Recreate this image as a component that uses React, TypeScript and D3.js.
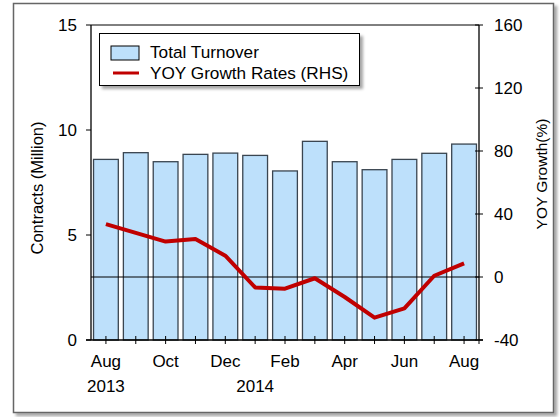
import React from "react";
import * as d3 from "d3";

const months = ["Aug", "Sep", "Oct", "Nov", "Dec", "Jan", "Feb", "Mar", "Apr", "May", "Jun", "Jul", "Aug2"];
const monthLabels = ["Aug", "", "Oct", "", "Dec", "", "Feb", "", "Apr", "", "Jun", "", "Aug"];
const turnover = [8.6, 8.92, 8.49, 8.84, 8.9, 8.79, 8.05, 9.46, 8.49, 8.11, 8.6, 8.89, 9.33];
const yoyGrowth = [33.6, 28, 22.5, 24.1, 13.5, -6.6, -7.4, -0.8, -12.7, -25.8, -19.9, 0.8, 8.7];
const leftTicks = [0, 5, 10, 15];
const rightTicks = [-40, 0, 40, 80, 120, 160];

const W = 560;
const H = 417;
const m = { left: 91, right: 479, top: 25, bottom: 340 };
const font = "'Liberation Sans', Arial, sans-serif";

export default function App() {
  const x = d3.scaleBand().domain(months).range([m.left, m.right]).paddingInner(0.17).paddingOuter(0.085);
  const yL = d3.scaleLinear().domain([0, 15]).range([m.bottom, m.top]);
  const yR = d3.scaleLinear().domain([-40, 160]).range([m.bottom, m.top]);
  const cx = (d: string) => (x(d) as number) + x.bandwidth() / 2;

  const line = d3
    .line<number>()
    .x((_, i) => cx(months[i]))
    .y((d) => yR(d));

  return (
    <svg width={W} height={H} style={{ position: "absolute", left: 0, top: 0 }} fontFamily={font}>
      <defs>
        <filter id="shadow" x="-10%" y="-10%" width="130%" height="150%">
          <feDropShadow dx="3" dy="3" stdDeviation="1.5" floodColor="#000" floodOpacity="0.35" />
        </filter>
      </defs>
      <rect x={0} y={0} width={W} height={H} fill="#fff" />
      {/* outer frame */}
      <rect x={13.5} y={3.5} width={540} height={409} fill="#fff" stroke="#666" strokeWidth={1.5} filter="url(#shadow)" />

      {/* bars */}
      {turnover.map((v, i) => (
        <rect
          key={i}
          x={x(months[i])}
          y={yL(v)}
          width={x.bandwidth()}
          height={yL(0) - yL(v)}
          fill="#BDE0FB"
          stroke="#3a4550"
          strokeWidth={1.3}
        />
      ))}

      {/* zero line RHS */}
      <line x1={m.left} x2={m.right} y1={yR(0)} y2={yR(0)} stroke="#000" strokeWidth={1} />

      {/* axes */}
      <line x1={m.left} x2={m.left} y1={m.top} y2={m.bottom} stroke="#000" strokeWidth={1.3} />
      <line x1={m.right} x2={m.right} y1={m.top} y2={m.bottom} stroke="#000" strokeWidth={1.3} />
      <line x1={m.left} x2={m.right} y1={m.top} y2={m.top} stroke="#000" strokeWidth={1} />
      <line x1={m.left - 5} x2={m.right + 4} y1={m.bottom} y2={m.bottom} stroke="#000" strokeWidth={1.3} />

      {leftTicks.map((t) => (
        <g key={"l" + t}>
          <line x1={m.left - 5} x2={m.left} y1={yL(t)} y2={yL(t)} stroke="#000" />
          <text x={77} y={yL(t)} dy="0.35em" textAnchor="end" fontSize={17} fill="#000">
            {t}
          </text>
        </g>
      ))}
      {rightTicks.map((t) => (
        <g key={"r" + t}>
          <line x1={m.right - 4} x2={m.right + 4} y1={yR(t)} y2={yR(t)} stroke="#000" />
          <text x={494} y={yR(t)} dy="0.35em" textAnchor="start" fontSize={17} fill="#000">
            {t}
          </text>
        </g>
      ))}
      {months.map((mo, i) => (
        <g key={"b" + i}>
          <line x1={cx(mo)} x2={cx(mo)} y1={m.bottom - 4} y2={m.bottom + 4} stroke="#000" />
          <text x={cx(mo)} y={367} textAnchor="middle" fontSize={17} fill="#000">
            {monthLabels[i]}
          </text>
        </g>
      ))}
      <line x1={m.right} x2={m.right} y1={m.bottom} y2={m.bottom + 4} stroke="#000" />
      <text x={cx(months[0])} y={392} textAnchor="middle" fontSize={17} fill="#000">2013</text>
      <text x={cx(months[5])} y={392} textAnchor="middle" fontSize={17} fill="#000">2014</text>

      {/* YOY line */}
      <path d={line(yoyGrowth) ?? ""} fill="none" stroke="#C00000" strokeWidth={4} strokeLinejoin="round" />

      {/* axis titles */}
      <text transform="translate(43,188) rotate(-90)" textAnchor="middle" fontSize={16.5} fill="#000">
        Contracts (Million)
      </text>
      <text transform="translate(547,174) rotate(-90)" textAnchor="middle" fontSize={15.5} fill="#000">
        YOY Growth(%)
      </text>

      {/* legend */}
      <rect x={99.5} y={33.5} width={260} height={52} fill="#fff" stroke="#000" strokeWidth={1} filter="url(#shadow)" />
      <rect x={111} y={46} width={28} height={14} fill="#BDE0FB" stroke="#000" strokeWidth={1} />
      <text x={150} y={58} fontSize={17.2} fill="#000">Total Turnover</text>
      <line x1={113} x2={139} y1={73} y2={73} stroke="#C00000" strokeWidth={3} />
      <text x={150} y={79} fontSize={17.2} fill="#000">YOY Growth Rates (RHS)</text>
    </svg>
  );
}
